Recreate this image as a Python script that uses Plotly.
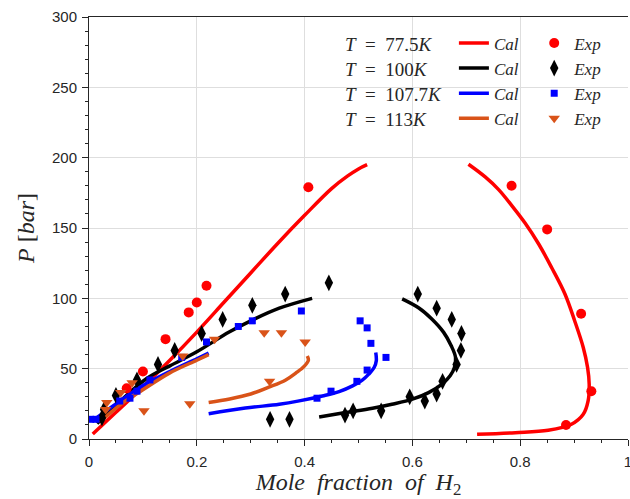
import plotly.graph_objects as go

# ---------------- data ----------------
temps = ["77.5", "100", "107.7", "113"]
colors = ["#FF0000", "#000000", "#0000FF", "#D95319"]
symbols = ["circle", "diamond-tall", "square", "triangle-down"]

# Calculated curves (liquid branch, vapor branch)
cal_liq_x = {
    "77.5": [0.007, 0.05, 0.10, 0.15, 0.20, 0.25, 0.30, 0.35, 0.40, 0.45, 0.48, 0.50, 0.516],
    "100": [0.015, 0.05, 0.107, 0.15, 0.20, 0.26, 0.30, 0.353, 0.414],
    "107.7": [0.01, 0.05, 0.10, 0.15, 0.20, 0.222],
    "113": [0.02, 0.06, 0.10, 0.15, 0.20, 0.222],
}
cal_liq_y = {
    "77.5": [3.5, 19, 37, 56, 76, 97, 118, 139, 159, 178, 187, 192, 195],
    "100": [11, 24, 43, 52, 62, 76, 84, 93, 100],
    "107.7": [14, 25, 38, 48, 57, 61],
    "113": [12, 25, 35, 47, 56, 60],
}
cal_vap_x = {
    "77.5": [0.704, 0.735, 0.760, 0.784, 0.809, 0.834, 0.858, 0.883, 0.901, 0.917, 0.925,
             0.928, 0.926, 0.917, 0.895, 0.852, 0.791, 0.720],
    "100": [0.581, 0.612, 0.636, 0.658, 0.672, 0.680, 0.678, 0.670, 0.655, 0.630, 0.600,
            0.562, 0.526, 0.476, 0.427],
    "107.7": [0.222, 0.29, 0.353, 0.390, 0.433, 0.464, 0.489, 0.507, 0.519, 0.529, 0.533, 0.532],
    "113": [0.222, 0.261, 0.30, 0.335, 0.365, 0.384, 0.400, 0.407, 0.405],
}
cal_vap_y = {
    "77.5": [195.3, 186.3, 177.3, 166.1, 153.5, 138.8, 122.1, 103.1, 84.1, 65.1, 50.8,
             39.0, 27.1, 17.6, 10.5, 6.2, 4.5, 3.3],
    "100": [99.6, 93.1, 85.3, 75.8, 66.3, 58.0, 50.8, 44.9, 39.0, 33.0, 28.3,
            24.7, 21.9, 18.8, 15.7],
    "107.7": [18, 22, 24.7, 27.1, 30.6, 33.7, 37.8, 41.8, 46.1, 50.8, 55.6, 61.5],
    "113": [26, 28.5, 32, 37, 42, 47, 52, 56, 59],
}

# Experimental points
exp_x = {
    "77.5": [0.07, 0.10, 0.142, 0.185, 0.20, 0.218, 0.407, 0.784, 0.85, 0.913, 0.932, 0.885],
    "100": [0.024, 0.028, 0.05, 0.089, 0.128, 0.159, 0.209, 0.248, 0.303, 0.364, 0.445,
            0.336, 0.372, 0.475, 0.490, 0.542, 0.595, 0.623, 0.645, 0.656, 0.682, 0.690,
            0.691, 0.673, 0.645, 0.610],
    "107.7": [0.003, 0.013, 0.057, 0.076, 0.089, 0.113, 0.172, 0.218, 0.277, 0.303, 0.394,
              0.423, 0.449, 0.497, 0.516, 0.551, 0.523, 0.516, 0.503],
    "113": [0.031, 0.033, 0.059, 0.08, 0.102, 0.174, 0.187, 0.233, 0.325, 0.335, 0.357, 0.401],
}
exp_y = {
    "77.5": [36, 48, 71, 90, 97, 109, 179, 180, 149, 89, 34, 10],
    "100": [15, 21, 31, 42, 53, 63, 75, 85, 95, 103, 111,
            14, 14, 17, 20, 20, 30, 27, 32, 41, 53, 63,
            75, 85, 93, 103],
    "107.7": [14, 14, 27, 29, 34, 42, 58, 69, 80, 84, 91,
              29, 34, 41, 49, 58, 68, 79, 84],
    "113": [21, 26, 33, 40, 20, 59, 25, 71, 75.5, 41, 75.5, 69],
}
marker_sizes = [10, 12, 7, 10]

x_ticks = [0, 0.2, 0.4, 0.6, 0.8, 1]
y_ticks = [0, 50, 100, 150, 200, 250, 300]

# ---------------- figure ----------------
fig = go.Figure()
serif = "Liberation Serif"
sans = "Liberation Sans"
ink = "#262626"

for t, c in zip(temps, colors):
    fig.add_trace(go.Scatter(
        x=cal_liq_x[t] + [None] + cal_vap_x[t],
        y=cal_liq_y[t] + [None] + cal_vap_y[t],
        mode="lines", line=dict(color=c, width=3.5, shape="spline", smoothing=1.0),
        connectgaps=False, name="<i>Cal</i>", legend="legend", showlegend=True,
    ))

for t, c, s, ms in zip(temps, colors, symbols, marker_sizes):
    fig.add_trace(go.Scatter(
        x=exp_x[t], y=exp_y[t], mode="markers",
        marker=dict(color=c, symbol=s, size=ms, line=dict(width=0)),
        name="<i>Exp</i>", legend="legend2", showlegend=True,
    ))

# Temperature labels of the legend rows
row_y = [0.935, 0.876, 0.816, 0.757]
for t, yy in zip(temps, row_y):
    fig.add_annotation(
        xref="paper", yref="paper", x=0.471, y=yy, xanchor="left", yanchor="middle",
        text=f"<i>T</i>&nbsp;&nbsp;=&nbsp;&nbsp;{t}<i>K</i>", showarrow=False,
        font=dict(family=serif, size=19, color=ink),
    )

axis_common = dict(
    showline=True, linecolor=ink, linewidth=1,
    ticks="outside", ticklen=6, tickwidth=1, tickcolor=ink,
    showgrid=True, gridcolor="#dedede", gridwidth=1,
    tickfont=dict(family=sans, size=15, color=ink),
    zeroline=False, automargin=False,
)

fig.update_xaxes(
    range=[0, 1], tickvals=x_ticks, ticktext=[str(v) for v in x_ticks],
    ticklabelstandoff=3, ticklabeloverflow="allow", mirror=True,
    minor=dict(dtick=0.05, ticks="outside", ticklen=3, tickcolor=ink, showgrid=False),
    title=dict(text="<i>Mole&nbsp;&nbsp;fraction&nbsp;&nbsp;of&nbsp;&nbsp;H</i><sub>2</sub>",
               font=dict(family=serif, size=24, color=ink), standoff=6),
    **axis_common,
)
fig.update_yaxes(
    range=[0, 300], tickvals=y_ticks, ticklabelstandoff=2, mirror=False,
    minor=dict(dtick=10, ticks="outside", ticklen=3, tickcolor=ink, showgrid=False),
    title=dict(text="<i>P</i>&nbsp;[<i>bar</i>]",
               font=dict(family=serif, size=24, color=ink), standoff=10),
    **axis_common,
)

legend_font = dict(family=serif, size=17, color=ink)
fig.update_layout(
    width=630, height=499,
    margin=dict(l=89, r=2, t=17, b=60),
    plot_bgcolor="white", paper_bgcolor="white",
    legend=dict(x=0.677, y=0.980, xanchor="left", yanchor="top",
                bgcolor="rgba(0,0,0,0)", font=legend_font, tracegroupgap=0,
                itemwidth=30, traceorder="normal"),
    legend2=dict(x=0.826, y=0.980, xanchor="left", yanchor="top",
                 bgcolor="rgba(0,0,0,0)", font=legend_font, tracegroupgap=0,
                 itemwidth=30, traceorder="normal"),
)

fig.write_html("out.html", config={"displayModeBar": False},
               post_script="document.body.style.margin='0';")
